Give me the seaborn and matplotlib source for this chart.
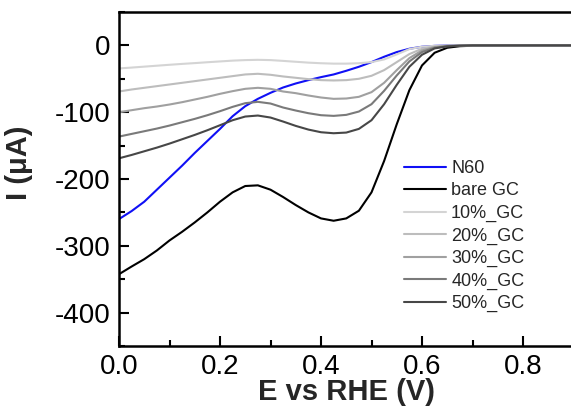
import matplotlib
matplotlib.use("Agg")
import matplotlib.pyplot as plt
from matplotlib.ticker import MultipleLocator, FormatStrFormatter
import pandas as pd
import seaborn as sns

# Potential grid (V vs RHE)
potential = [0.0, 0.025, 0.05, 0.075, 0.10, 0.125, 0.15, 0.175, 0.20, 0.225,
             0.25, 0.275, 0.30, 0.325, 0.35, 0.375, 0.40, 0.425, 0.45, 0.475,
             0.50, 0.525, 0.55, 0.575, 0.60, 0.625, 0.65, 0.675, 0.70, 0.80, 0.90]

# Current (uA) for each electrode
n60 = [-260, -248, -234, -216, -198, -180, -161, -143, -125, -106,
       -91, -80, -71, -63, -57, -52, -47.5, -43.5, -38, -32,
       -25, -17, -10, -5, -2, -0.7, -0.2, 0, 0, 0, 0]
bare_gc = [-342.5, -331, -320, -307, -292, -279, -265, -250, -234, -220,
           -210.5, -209.5, -216, -227, -239, -250, -259, -262.5, -259, -247.5,
           -220, -173, -118, -67, -30, -11, -3.5, -1.2, -0.5, 0, 0]
gc_10 = [-34.5, -33.2, -31.8, -30.4, -29, -27.7, -26.5, -25.2, -24, -22.8,
         -22, -21.6, -22, -23.2, -24.5, -25.8, -26.7, -27.3, -27.3, -26.7,
         -25, -21, -13.5, -5.5, -2, -0.7, -0.3, -0.1, 0, 0, 0]
gc_20 = [-69, -66, -63.5, -61, -58.5, -56, -53.5, -51, -48.5, -46,
         -43.5, -42.5, -44, -46.5, -48.5, -50.5, -52, -52.5, -52, -50,
         -45.5, -37, -25, -13, -5, -1.8, -0.6, -0.2, 0, 0, 0]
gc_30 = [-100, -97, -94, -91.5, -88.5, -85, -81, -77, -72.5, -68.5,
         -65, -63.5, -65, -69, -71.5, -75, -78, -80, -79.5, -77,
         -70, -56, -37, -19, -7.5, -2.5, -0.8, -0.3, 0, 0, 0]
gc_40 = [-136.5, -132.5, -128.5, -124.5, -120, -115, -110, -104.5, -98.5, -92,
         -86.5, -84.5, -87, -93, -97.5, -101.5, -104.5, -105.5, -104, -99,
         -88, -68, -45, -24, -10, -3.5, -1.2, -0.4, 0, 0, 0]
gc_50 = [-169, -164, -158.5, -153, -147, -140.5, -134, -127, -119.5, -112,
         -106.5, -105, -108, -114, -120.5, -126, -130, -131.5, -130.5, -125,
         -112, -88, -59, -32, -14, -4.5, -1.5, -0.5, 0, 0, 0]

labels = ["N60", "bare GC", "10%_GC", "20%_GC", "30%_GC", "40%_GC", "50%_GC"]
series = [n60, bare_gc, gc_10, gc_20, gc_30, gc_40, gc_50]
colors = ["#1010f5", "#000000", "#d4d4d4", "#bdbdbd", "#a0a0a0", "#7a7a7a", "#474747"]

frames = [pd.DataFrame({"E": potential, "I": vals, "sample": name})
          for name, vals in zip(labels, series)]
df = pd.concat(frames, ignore_index=True)

sns.set_theme(style="white")
plt.rcParams["font.family"] = ["Liberation Sans", "DejaVu Sans"]
plt.rcParams["axes.unicode_minus"] = False

fig = plt.figure(figsize=(5.71, 4.11), dpi=100)
ax = fig.add_axes([119 / 571, 1 - 346 / 411, 454.5 / 571, 334 / 411])

sns.lineplot(data=df, x="E", y="I", hue="sample", hue_order=labels,
             palette=dict(zip(labels, colors)), estimator=None, sort=False,
             linewidth=1.5, ax=ax)

ax.set_xlim(0, 0.9)
ax.set_ylim(-450, 50)
ax.xaxis.set_major_locator(MultipleLocator(0.2))
ax.xaxis.set_minor_locator(MultipleLocator(0.1))
ax.yaxis.set_major_locator(MultipleLocator(100))
ax.yaxis.set_minor_locator(MultipleLocator(50))
ax.xaxis.set_major_formatter(FormatStrFormatter("%.1f"))
ax.tick_params(which="both", direction="in", width=1.5, colors="black",
               labelsize=20, bottom=True, left=True, top=False, right=False)
ax.tick_params(which="major", length=7, pad=6)
ax.tick_params(which="minor", length=4)
for sp in ax.spines.values():
    sp.set_linewidth(1.8)
    sp.set_color("black")

ax.set_xlabel("E vs RHE (V)", fontsize=21, fontweight="bold")
ax.set_ylabel("I (\u03bcA)", fontsize=21, fontweight="bold")
ax.xaxis.set_label_coords(0.501, -0.095)
ax.yaxis.set_label_coords(-0.189, 0.548)

ax.legend(loc="upper left", bbox_to_anchor=(404 / 571, 1 - 160 / 411),
          bbox_transform=fig.transFigure, frameon=False, fontsize=13,
          handlelength=2.33, handletextpad=0.28, labelspacing=0.3,
          borderaxespad=0, borderpad=0)

fig.savefig("out.png", dpi=100)
